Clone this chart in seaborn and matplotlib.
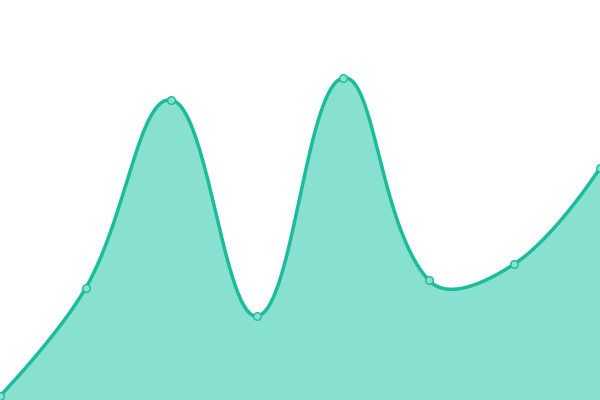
import numpy as np
import pandas as pd
import matplotlib
matplotlib.use("Agg")
import matplotlib.pyplot as plt
import seaborn as sns

# values (y axis 0..100, full frame)
x_idx = [0, 1, 2, 3, 4, 5, 6, 7]
values = [1, 28, 75, 21, 80.5, 30, 34, 58]

line_color = "#1abc9c"
fill_color = "#88e0d0"


def spline_curve(xs, ys, tension=0.4, steps=60):
    # chart.js style cardinal spline, computed in pixel space
    px = np.array(xs, float) * 600 / 7
    py = np.array(ys, float) * 4
    n = len(px)
    cp_prev = []
    cp_next = []
    for i in range(n):
        if i == 0 or i == n - 1:
            cp_prev.append((px[i], py[i]))
            cp_next.append((px[i], py[i]))
            continue
        d01 = np.hypot(px[i] - px[i-1], py[i] - py[i-1])
        d12 = np.hypot(px[i+1] - px[i], py[i+1] - py[i])
        s01 = d01 / (d01 + d12)
        s12 = d12 / (d01 + d12)
        fa = tension * s01
        fb = tension * s12
        dx = px[i+1] - px[i-1]
        dy = py[i+1] - py[i-1]
        cp_prev.append((px[i] - fa * dx, py[i] - fa * dy))
        cp_next.append((px[i] + fb * dx, py[i] + fb * dy))
    out_x, out_y = [], []
    t = np.linspace(0, 1, steps)
    for i in range(n - 1):
        p0 = np.array([px[i], py[i]])
        p1 = np.array(cp_next[i])
        p2 = np.array(cp_prev[i+1])
        p3 = np.array([px[i+1], py[i+1]])
        pts = ((1-t)**3)[:, None]*p0 + (3*(1-t)**2*t)[:, None]*p1 \
            + (3*(1-t)*t**2)[:, None]*p2 + (t**3)[:, None]*p3
        out_x.extend(pts[:, 0])
        out_y.extend(pts[:, 1])
    return np.array(out_x) * 7 / 600, np.array(out_y) / 4


sns.set_theme(style="white")

fig = plt.figure(figsize=(6, 4), dpi=100)
ax = fig.add_axes([0, 0, 1, 1])

cx, cy = spline_curve(x_idx, values)
curve = pd.DataFrame({"x": cx, "y": cy})
ax.fill_between(cx, 0, cy, color=fill_color, linewidth=0)
sns.lineplot(data=curve, x="x", y="y", sort=False, color=line_color,
             linewidth=2.5, ax=ax)

pts = pd.DataFrame({"x": x_idx, "y": values})
sc = sns.scatterplot(data=pts, x="x", y="y", s=30, color=fill_color,
                     edgecolor=line_color, linewidth=1, ax=ax, zorder=5)
for c in ax.collections:
    c.set_clip_on(False)

ax.set_xlim(0, 7)
ax.set_ylim(0, 100)
ax.axis("off")

fig.savefig("out.png", dpi=100)
